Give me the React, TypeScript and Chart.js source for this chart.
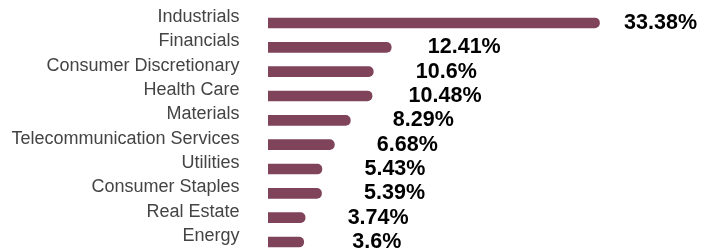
import React, { useEffect, useRef } from "react";
import { Chart, registerables } from "chart.js";

Chart.register(...registerables);

const categories = [
  "Industrials",
  "Financials",
  "Consumer Discretionary",
  "Health Care",
  "Materials",
  "Telecommunication Services",
  "Utilities",
  "Consumer Staples",
  "Real Estate",
  "Energy",
];
const weights = [33.38, 12.41, 10.6, 10.48, 8.29, 6.68, 5.43, 5.39, 3.74, 3.6];
const valueLabels = ["33.38%", "12.41%", "10.6%", "10.48%", "8.29%", "6.68%", "5.43%", "5.39%", "3.74%", "3.6%"];

const FONT = "'Liberation Sans', Arial, Helvetica, sans-serif";

const valueLabelPlugin = {
  id: "valueLabels",
  afterDatasetsDraw(chart: any) {
    const ctx = chart.ctx;
    const meta = chart.getDatasetMeta(0);
    ctx.save();
    ctx.font = `bold 21.5px ${FONT}`;
    ctx.fillStyle = "#000000";
    ctx.textAlign = "center";
    ctx.textBaseline = "middle";
    meta.data.forEach((bar: any, i: number) => {
      const text = valueLabels[i];
      const w = ctx.measureText(text).width;
      let x = bar.x + 73;
      const maxX = chart.width - 4 - w / 2;
      if (x > maxX) x = maxX;
      ctx.fillText(text, x, bar.y);
    });
    ctx.restore();
  },
};

export default function App() {
  const ref = useRef<HTMLCanvasElement | null>(null);
  useEffect(() => {
    if (!ref.current) return;
    const chart = new Chart(ref.current, {
      type: "bar",
      data: {
        labels: categories,
        datasets: [
          {
            data: weights,
            backgroundColor: "#7f4459",
            barThickness: 10,
            borderRadius: 5,
            borderSkipped: "start",
          },
        ],
      },
      options: {
        indexAxis: "y",
        animation: false,
        responsive: false,
        maintainAspectRatio: false,
        layout: { padding: { top: 9.7, bottom: 10, left: 0, right: 0 } },
        plugins: { legend: { display: false }, tooltip: { enabled: false } },
        scales: {
          x: { display: false, min: 0, max: 43.6 },
          y: {
            grid: {
              display: true,
              color: "rgba(0,0,0,0)",
              drawOnChartArea: false,
              drawTicks: true,
              tickLength: 28.5,
            },
            border: { display: false },
            afterFit(scale: any) {
              scale.width = 268;
            },
            ticks: {
              autoSkip: false,
              padding: 0,
              labelOffset: -6,
              color: "#444444",
              font: { family: FONT, size: 18 },
            },
          },
        },
      },
      plugins: [valueLabelPlugin],
    });
    return () => chart.destroy();
  }, []);
  return (
    <div style={{ position: "fixed", left: 0, top: 0, width: 701, height: 265, background: "#fff" }}>
      <canvas ref={ref} width={701} height={265} style={{ width: 701, height: 265 }} />
    </div>
  );
}
